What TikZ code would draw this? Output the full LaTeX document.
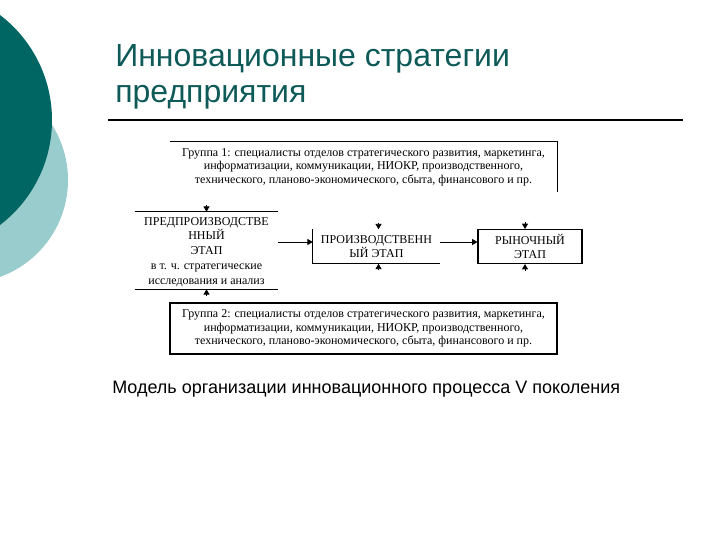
\documentclass[tikz,border=0pt]{standalone}
\usepackage{fontspec}
\setmainfont{Liberation Serif}
\newfontfamily\arialf{Liberation Sans}
\usetikzlibrary{arrows.meta}
\definecolor{darkteal}{RGB}{0,102,100}
\definecolor{lightteal}{RGB}{153,204,204}
\definecolor{titleteal}{RGB}{14,90,88}
\begin{document}
\begin{tikzpicture}[x=0.75pt,y=-0.75pt,
  boxtxt/.style={inner sep=0pt, align=center, font=\fontsize{9pt}{10.2pt}\selectfont},
  arr/.style={-{Triangle[width=4.5pt,length=4pt]}, line width=0.6pt},
  edge/.style={line width=0.8pt}]
\useasboundingbox (0,0) rectangle (720,540);
\begin{scope}
\clip (0,0) rectangle (720,540);
\fill[lightteal] (-35,180) circle[radius=103];
\fill[darkteal] (-80,120) circle[radius=132];
\end{scope}
% title
\node[anchor=base west, inner sep=0pt, text=titleteal, font=\arialf\fontsize{24pt}{28pt}\selectfont] (t1) at (115,66) {Инновационные стратегии};
\node[anchor=base west, inner sep=0pt, text=titleteal, font=\arialf\fontsize{24pt}{28pt}\selectfont] (t2) at (115,102) {предприятия};
\draw[line width=0.8pt] (108,120) coordinate (r1) -- (683,120) coordinate (r2);
% boxes
\node[boxtxt, minimum width=290.25pt, minimum height=37.5pt] (g1) at (363.5,167)
  {Группа 1: специалисты отделов стратегического развития, маркетинга,\\
   информатизации, коммуникации, НИОКР, производственного,\\
   технического, планово-экономического, сбыта, финансового и пр.};
\draw[edge] (g1.north west) -- (g1.north east) -- (g1.south east);
\node[boxtxt, minimum width=107.25pt, minimum height=57.75pt] (pre) at (206.5,250.5) {};
\node[boxtxt] (pretxt) at (206.5,252)
  {ПРЕДПРОИЗВОДСТВЕ\\ННЫЙ\\[1pt]ЭТАП\\[1pt]в т. ч. стратегические\\[1pt]исследования и анализ};
\draw[edge] (pre.north west) -- (pre.north east);
\draw[edge] (pre.south west) -- (pre.south east);
\node[boxtxt, minimum width=95.25pt, minimum height=25.5pt] (mid) at (376.5,246.5)
  {ПРОИЗВОДСТВЕНН\\ЫЙ ЭТАП};
\draw[edge] (mid.north west) -- (mid.south west) -- (mid.south east);
\node[boxtxt, draw, line width=0.8pt, minimum width=78pt, minimum height=25.5pt] (mkt) at (530,246.5)
  {РЫНОЧНЫЙ\\ЭТАП};
\node[boxtxt, draw, line width=0.8pt, minimum width=290.25pt, minimum height=38.25pt] (g2) at (363.5,328.5)
  {Группа 2: специалисты отделов стратегического развития, маркетинга,\\
   информатизации, коммуникации, НИОКР, производственного,\\
   технического, планово-экономического, сбыта, финансового и пр.};
% arrows
\draw[arr] (pre.east |- 0,242) -- (mid.west |- 0,242);
\draw[arr] (mid.east |- 0,242) -- (mkt.west |- 0,242);
\draw[arr] ([yshift=5pt]pre.north) -- (pre.north);
\draw[arr] ([xshift=1.5pt,yshift=5pt]mid.north) -- ([xshift=1.5pt]mid.north);
\draw[arr] ([xshift=-3.75pt,yshift=5pt]mkt.north) -- ([xshift=-3.75pt]mkt.north);
\draw[arr] ([yshift=-5pt]pre.south) -- (pre.south);
\draw[arr] ([xshift=1.5pt,yshift=-5pt]mid.south) -- ([xshift=1.5pt]mid.south);
\draw[arr] ([xshift=-3.75pt,yshift=-5pt]mkt.south) -- ([xshift=-3.75pt]mkt.south);
% caption
\node[anchor=base west, inner sep=0pt, font=\arialf\fontsize{13.5pt}{16pt}\selectfont] (cap) at (112,393)
  {Модель организации инновационного процесса V поколения};
\end{tikzpicture}
\end{document}
